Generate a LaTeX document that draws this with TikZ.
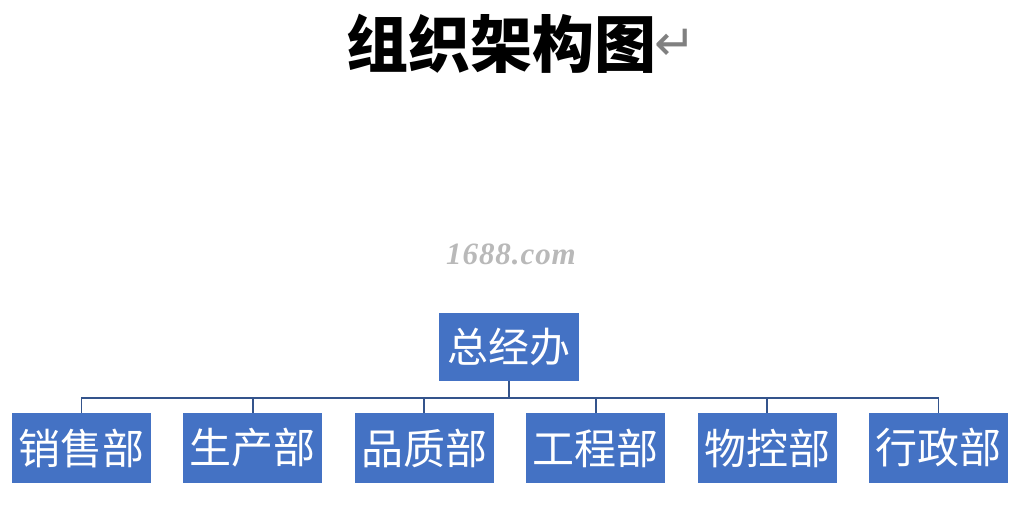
\documentclass[tikz,border=0pt]{standalone}
\usepackage{fontspec}
\newfontfamily\cjk{Noto Sans CJK SC}
\newfontfamily\symfont{DejaVu Sans}
\newfontfamily\wmfont[LetterSpace=3]{Liberation Serif}
\usetikzlibrary{positioning}

\definecolor{boxblue}{RGB}{68,114,196}
\definecolor{linkblue}{RGB}{52,84,140}

\tikzset{
  dept/.style={rectangle, fill=boxblue, text=white, inner sep=0pt,
    minimum width=139pt, minimum height=70pt,
    font=\cjk\fontsize{42}{42}\selectfont},
  link/.style={draw=linkblue, line width=1.8pt}
}

\begin{document}
\begin{tikzpicture}[x=1pt, y=-1pt, node distance=32pt]
    \useasboundingbox (0,0) rectangle (1021,504);

    \node [font=\cjk\bfseries\fontsize{62}{62}\selectfont] (title) at (501,44) {组织架构图};
    \node [anchor=west, inner sep=0pt, text=gray, font=\symfont\fontsize{50}{50}\selectfont] (ret) at (654,45) {↵};
    \node [text=gray!55, font=\wmfont\bfseries\itshape\fontsize{31}{31}\selectfont] (mark) at (511,254) {1688.com};

    \node [dept, minimum width=140pt, minimum height=68pt, font=\cjk\fontsize{41}{41}\selectfont] (zjb) at (509,347) {总经办};

    \node [dept] (xsb) at (81.5,448) {销售部};
    \node [dept, right=of xsb] (scb) {生产部};
    \node [dept, right=of scb] (pzb) {品质部};
    \node [dept, right=of pzb] (gcb) {工程部};
    \node [dept, right=of gcb] (wkb) {物控部};
    \node [dept, right=of wkb] (xzb) {行政部};

    \coordinate (bus) at (509,398);
    \draw [link] (zjb) -- (bus);
    \foreach \d in {xsb, scb, pzb, gcb, wkb, xzb}
        \draw [link] (bus) -| (\d.north);
\end{tikzpicture}
\end{document}
